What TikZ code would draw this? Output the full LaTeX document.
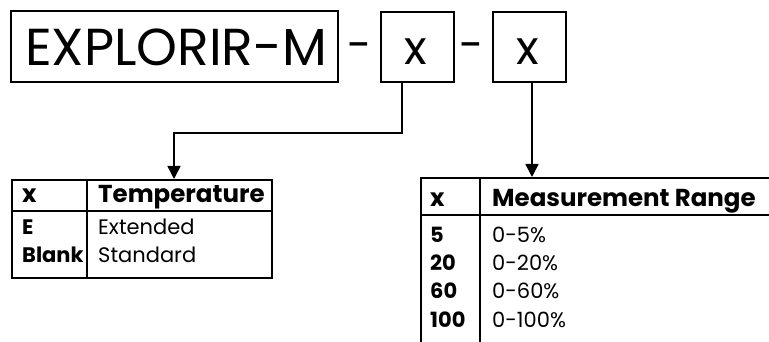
\documentclass[tikz,border=0pt]{standalone}
\usepackage{fontspec}
\setmainfont{Poppins}
\usetikzlibrary{arrows.meta}
\tikzset{
  pnbox/.style={draw=black, line width=2pt, inner sep=0pt},
  bigtxt/.style={inner sep=0pt, font=\fontsize{52}{56}\selectfont},
  xtxt/.style={inner sep=0pt, font=\fontsize{47}{50}\selectfont},
  dashtxt/.style={inner sep=0pt, font=\fontsize{44}{48}\selectfont},
  conn/.style={draw=black, line width=1.6pt},
  arr/.style={conn, -{Triangle[width=13pt,length=13pt]}},
  tline/.style={draw=black, line width=2pt},
  iline/.style={draw=black, line width=1.6pt},
  hdr/.style={anchor=base west, inner sep=0pt, font=\fontsize{24.5}{28}\selectfont\bfseries},
  bdy/.style={anchor=base west, inner sep=0pt, font=\fontsize{21}{24}\selectfont},
  bdyb/.style={anchor=base west, inner sep=0pt, font=\fontsize{21}{24}\selectfont\bfseries},
}
\begin{document}
\begin{tikzpicture}[x=1pt,y=-1pt]
\useasboundingbox (0,0) rectangle (769,342);
% part number boxes
\node[pnbox, minimum width=327pt, minimum height=71pt] (title) at (174.5,46.5) {};
\node[bigtxt] (titletxt) at (176,47.5) {EXPLORIR-M};
\node[dashtxt] (d1) at (360,52) {-};
\node[pnbox, minimum width=73pt, minimum height=70pt] (box1) at (417.5,47) {};
\node[xtxt] (x1) at (415.5,52) {x};
\node[dashtxt] (d2) at (472,52) {-};
\node[pnbox, minimum width=73pt, minimum height=70pt] (box2) at (529.5,47) {};
\node[xtxt] (x2) at (528,52) {x};
% connector anchors
\coordinate (c1a) at (402,82);
\coordinate (c1b) at (402,133);
\coordinate (t1top) at (174,179);
\coordinate (c2a) at (532,82);
\coordinate (t2top) at (532,177);
\draw[arr] (c1a) -- (c1b) -| (t1top);
\draw[arr] (c2a) -- (t2top);
% left table
\draw[tline] (12,180) rectangle (272,278);
\draw[iline] (12,211) -- (272,211);
\draw[iline] (87,180) -- (87,278);
\node[hdr] (tx) at (22,203) {x};
\node[hdr] (th) at (98,203) {Temperature};
\node[bdyb] (te) at (22,234) {E};
\node[bdy] (tev) at (98,234) {Extended};
\node[bdyb] (tb) at (22,262) {Blank};
\node[bdy] (tbv) at (98,262) {Standard};
% right table
\draw[tline] (769,178) -- (421,178) -- (421,342);
\draw[iline] (480,178) -- (480,342);
\draw[iline] (421,215) -- (769,215);
\node[hdr] (mx) at (430,207) {x};
\node[hdr] (mh) at (492,207) {Measurement Range};
\node[bdyb] (m1) at (430,242) {5};
\node[bdy] (m1v) at (492,242) {0-5\%};
\node[bdyb] (m2) at (430,270) {20};
\node[bdy] (m2v) at (492,270) {0-20\%};
\node[bdyb] (m3) at (430,298) {60};
\node[bdy] (m3v) at (492,298) {0-60\%};
\node[bdyb] (m4) at (430,327) {100};
\node[bdy] (m4v) at (492,327) {0-100\%};
\end{tikzpicture}
\end{document}
